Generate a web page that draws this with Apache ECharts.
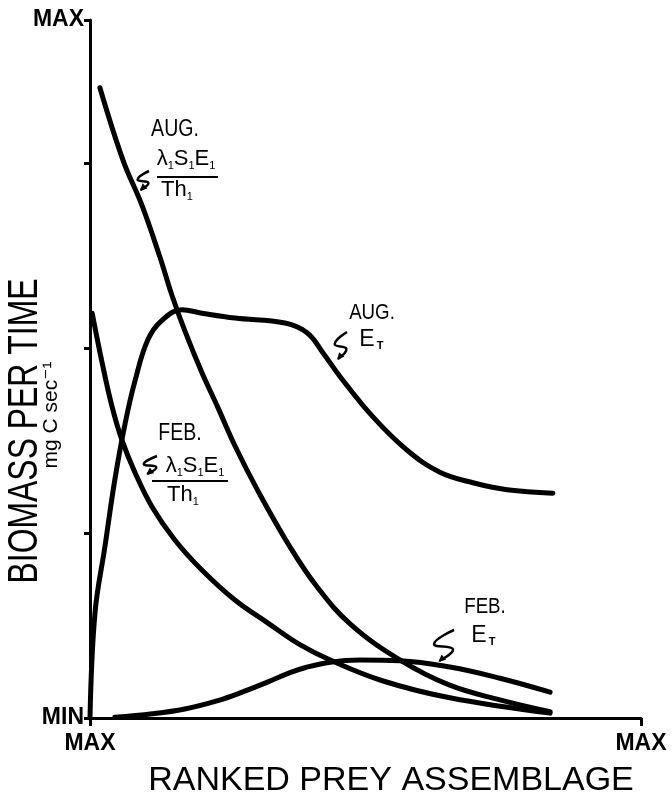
<!DOCTYPE html>
<html>
<head>
<meta charset="utf-8">
<script src="https://cdn.jsdelivr.net/npm/echarts@6/dist/echarts.min.js"></script>
<style>
html,body{margin:0;padding:0;background:#fff;}
#chart{width:672px;height:803px;}
</style>
</head>
<body>
<div id="chart"></div>
<script>
// Ranked prey assemblage position (0 = MAX rank at origin, 100 = axis end)
const augRateX = [1.8, 6.0, 9.4, 12.7, 14.9, 17.2, 20.3, 23.2, 26.3, 30.5, 36.3, 41.2, 47.2, 56.3, 65.3, 74.4, 83.5];
const augRateY = [90.3, 79.9, 73.5, 66.0, 60.5, 55.5, 49.5, 44.5, 39.0, 32.5, 24.5, 18.8, 13.5, 8.3, 4.7, 2.6, 0.9];

const augETX = [0, 0.9, 2.7, 4.5, 6.4, 8.2, 10.5, 13.1, 16.7, 20.3, 26.3, 35.4, 39.4, 42.3, 45.4, 51.4, 57.5, 63.5, 69.5, 75.7, 84.0];
const augETY = [0, 15.0, 24.5, 34.1, 42.3, 48.4, 54.2, 57.0, 58.5, 58.0, 57.3, 56.6, 55.2, 52.3, 48.9, 43.1, 38.4, 35.2, 33.7, 32.7, 32.2];

const febRateX = [0.4, 2.2, 4.0, 5.8, 8.2, 11.3, 15.4, 20.3, 26.3, 32.3, 38.1, 43.6, 53.2, 65.3, 83.5];
const febRateY = [58.0, 50.9, 44.6, 39.8, 35.1, 30.2, 25.5, 21.2, 16.9, 13.6, 10.5, 8.3, 5.3, 2.9, 0.7];

const febETX = [4.5, 11.3, 17.2, 23.2, 27.6, 32.1, 36.3, 39.0, 43.6, 49.0, 56.3, 65.3, 74.4, 83.5];
const febETY = [0.1, 0.6, 1.3, 2.5, 3.7, 5.1, 6.5, 7.2, 8.0, 8.3, 8.2, 7.3, 5.7, 3.7];

const yTickLabels = {0: 'MIN', 100: 'MAX'};
const xTickLabels = {0: 'MAX', 100: 'MAX'};
const yTitle = 'BIOMASS PER TIME';
const yUnit = 'mg C sec\u207B\u00B9';
const xTitle = 'RANKED PREY ASSEMBLAGE';

function pairs(xs, ys) { return xs.map((x, i) => [x, ys[i]]); }

const chart = echarts.init(document.getElementById('chart'), null, {renderer: 'canvas'});

const FONT = '"Liberation Sans", Arial, "DejaVu Sans", sans-serif';

function lineSeries(name, data) {
  return {
    name: name,
    type: 'line',
    data: data,
    showSymbol: false,
    smooth: 0.4,
    lineStyle: {color: '#000', width: 5, cap: 'round', join: 'round'},
    silent: true,
    z: 3
  };
}

function squiggle(x0, y0, w, h) {
  const rel = [[1, 0], [0.05, 0.45], [0.95, 0.62], [0.3, 1]];
  const pts = rel.map(p => [x0 + p[0] * w, y0 + p[1] * h]);
  const E = pts[3], P = pts[2];
  let dx = E[0] - P[0], dy = E[1] - P[1];
  const L = Math.sqrt(dx * dx + dy * dy); dx /= L; dy /= L;
  const nx = -dy, ny = dx;
  const a = 6, b = 3.5;
  return [
    {type: 'polyline', shape: {points: pts, smooth: 0.5}, style: {stroke: '#000', lineWidth: 2.5, fill: null}, z: 10},
    {type: 'polygon', shape: {points: [
      [E[0] + dx * 1, E[1] + dy * 1],
      [E[0] - dx * a + nx * b, E[1] - dy * a + ny * b],
      [E[0] - dx * a - nx * b, E[1] - dy * a - ny * b]
    ]}, style: {fill: '#000'}, z: 10}
  ];
}

function txt(text, x, y, size, opts) {
  opts = opts || {};
  return {
    type: 'text', x: x, y: y,
    rotation: opts.rotation || 0,
    scaleX: opts.scaleX || 1,
    scaleY: opts.scaleY || 1,
    z: 10,
    style: {
      text: text,
      font: (opts.weight || 'normal') + ' ' + size + 'px ' + FONT,
      fill: '#000',
      textAlign: opts.align || 'center',
      textVerticalAlign: 'middle'
    }
  };
}

function fracTop(x, y) {
  return {
    type: 'text', x: x, y: y, z: 10,
    style: {
      text: '{m|\u03BB}{s|1}{m|S}{s|1}{m|E}{s|1}',
      textAlign: 'center', textVerticalAlign: 'middle',
      fill: '#000',
      rich: {
        m: {fontSize: 22, fontFamily: FONT, lineHeight: 24, verticalAlign: 'middle'},
        s: {fontSize: 11, fontFamily: FONT, lineHeight: 24, verticalAlign: 'bottom'}
      }
    }
  };
}
function fracBottom(x, y) {
  return {
    type: 'text', x: x, y: y, z: 10,
    style: {
      text: '{m|Th}{s|1}',
      textAlign: 'center', textVerticalAlign: 'middle',
      fill: '#000',
      rich: {
        m: {fontSize: 22, fontFamily: FONT, lineHeight: 24, verticalAlign: 'middle'},
        s: {fontSize: 11, fontFamily: FONT, lineHeight: 24, verticalAlign: 'bottom'}
      }
    }
  };
}
function bar(x1, x2, y) {
  return {type: 'line', shape: {x1: x1, y1: y, x2: x2, y2: y}, style: {stroke: '#000', lineWidth: 2}, z: 10};
}

const graphics = [
  // AUG lambda S E / Th
  txt('AUG.', 175, 130, 23, {scaleX: 0.85}),
  fracTop(186, 159),
  bar(157, 218, 177),
  fracBottom(177, 190),
  ...squiggle(137, 171, 12, 19),
  // AUG E_T
  txt('AUG.', 372, 313, 22, {scaleX: 0.85}),
  txt('E', 367, 340, 23),
  txt('T', 380, 346, 11, {weight: 'bold'}),
  ...squiggle(334, 332, 13, 27),
  // FEB lambda S E / Th
  txt('FEB.', 180, 434, 23, {scaleX: 0.85}),
  fracTop(195, 466),
  bar(152, 228, 481),
  fracBottom(183, 495),
  ...squiggle(143, 456, 14, 18),
  // FEB E_T
  txt('FEB.', 485, 607, 22, {scaleX: 0.85}),
  txt('E', 479, 636, 23),
  txt('T', 492, 642, 11, {weight: 'bold'}),
  ...squiggle(433, 630, 21, 31),
  // axis titles
  txt(yTitle, 25, 431, 42, {rotation: Math.PI / 2, scaleX: 0.76}),
  txt(yUnit, 51, 415, 21, {rotation: Math.PI / 2}),
  txt(xTitle, 391, 781, 34)
];

const option = {
  animation: false,
  backgroundColor: '#fff',
  grid: {left: 90, right: 31, top: 20, bottom: 85, containLabel: false},
  xAxis: {
    type: 'value', min: 0, max: 100, interval: 100,
    axisLine: {show: true, onZero: false, lineStyle: {color: '#000', width: 3}},
    axisTick: {show: true, length: 8, lineStyle: {color: '#000', width: 3}},
    splitLine: {show: false},
    axisLabel: {
      margin: 14, color: '#000', fontSize: 23, fontWeight: 'bold', fontFamily: FONT,
      formatter: v => xTickLabels[v] || ''
    }
  },
  yAxis: {
    type: 'value', min: 0, max: 100, interval: 26.5,
    axisLine: {show: true, lineStyle: {color: '#000', width: 3}},
    axisTick: {show: true, length: 6, lineStyle: {color: '#000', width: 3}},
    splitLine: {show: false},
    axisLabel: {
      margin: 6, color: '#000', fontSize: 23, fontWeight: 'bold', fontFamily: FONT,
      formatter: v => yTickLabels[v] || ''
    }
  },
  series: [
    lineSeries('AUG \u03BBSE/Th', pairs(augRateX, augRateY)),
    lineSeries('AUG ET', pairs(augETX, augETY)),
    lineSeries('FEB \u03BBSE/Th', pairs(febRateX, febRateY)),
    lineSeries('FEB ET', pairs(febETX, febETY))
  ],
  graphic: graphics
};
chart.setOption(option);
</script>
</body>
</html>
